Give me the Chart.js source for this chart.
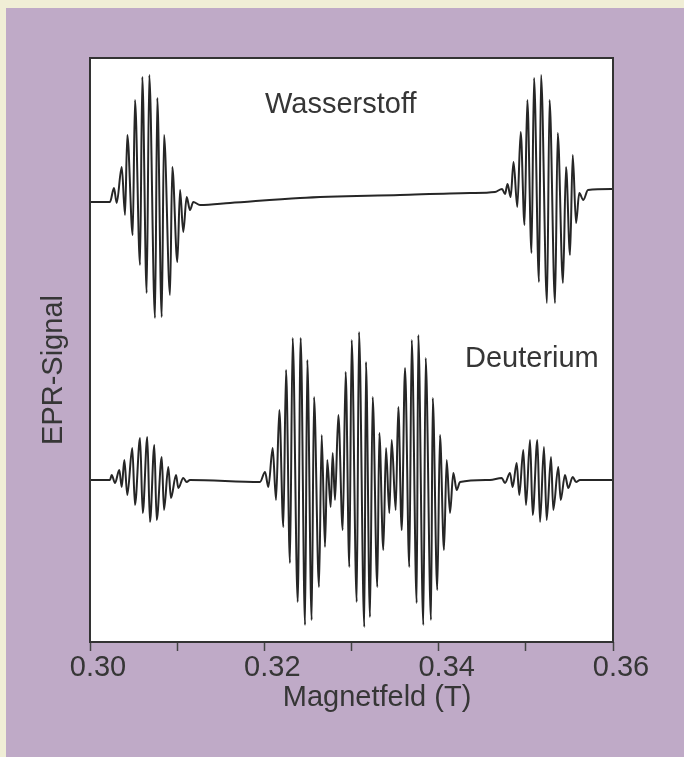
<!DOCTYPE html>
<html>
<head>
<meta charset="utf-8">
<script src="https://cdn.jsdelivr.net/npm/chart.js@4.4.1/dist/chart.umd.min.js"></script>
<style>
    html, body { margin: 0; padding: 0; background: #f0eed6; }
    #wrap { position: relative; width: 684px; height: 757px; }
</style>
</head>
<body>
<div id="wrap"><canvas id="eprChart"></canvas></div>
<script>
// Magnetfeld (T) und EPR-Signal (willkürliche Einheiten)
const hField = [
    0.30000, 0.30229, 0.30275, 0.30306, 0.30364, 0.30402, 0.30428, 0.30490, 0.30516, 0.30574,
    0.30600, 0.30650, 0.30680, 0.30746, 0.30772, 0.30823, 0.30849, 0.30918, 0.30944, 0.31002,
    0.31033, 0.31070, 0.31109, 0.31147, 0.31185, 0.31262, 0.31606, 0.32409, 0.33556, 0.34359,
    0.34646, 0.34727, 0.34761, 0.34790, 0.34826, 0.34859, 0.34902, 0.34941, 0.34985, 0.35017,
    0.35065, 0.35094, 0.35151, 0.35174, 0.35243, 0.35272, 0.35335, 0.35366, 0.35426, 0.35461,
    0.35507, 0.35538, 0.35576, 0.35613, 0.35659, 0.35713, 0.36000
];
const hSignal = [
    0, 0, 14, -1, 35, -13, 67, -33, 102, -63,
    125, -91, 127, -116, 104, -115, 67, -93, 35, -60,
    12, -30, 5, -8, 0, -3, -1, 4, 7, 9,
    10, 13, 8, 18, 5, 40, -5, 70, -23, 102,
    -51, 124, -80, 127, -101, 102, -101, 69, -81, 35,
    -53, 47, -21, 9, 2, 12, 13
];

const dField = [
    0.30000, 0.30229, 0.30249, 0.30287, 0.30336, 0.30364, 0.30394, 0.30428, 0.30485, 0.30516,
    0.30574, 0.30605, 0.30657, 0.30688, 0.30738, 0.30765, 0.30823, 0.30849, 0.30898, 0.30929,
    0.30987, 0.31013, 0.31070, 0.31109, 0.31147, 0.31950,
    0.32008, 0.32046, 0.32096, 0.32134, 0.32172, 0.32218, 0.32249, 0.32294, 0.32325, 0.32383,
    0.32417, 0.32467, 0.32493, 0.32543, 0.32570, 0.32627, 0.32658, 0.32696, 0.32722, 0.32761,
    0.32784, 0.32811, 0.32849, 0.32899, 0.32933, 0.32975, 0.33002, 0.33060, 0.33086, 0.33147,
    0.33166, 0.33212, 0.33243, 0.33296, 0.33319, 0.33365, 0.33396, 0.33434, 0.33461, 0.33507,
    0.33537, 0.33576, 0.33614, 0.33663, 0.33691, 0.33748, 0.33766, 0.33824, 0.33851, 0.33912,
    0.33932, 0.33984, 0.34015, 0.34061, 0.34092, 0.34130, 0.34168, 0.34207, 0.34245, 0.34589,
    0.34723, 0.34761, 0.34818, 0.34849, 0.34895, 0.34925, 0.34971, 0.35002, 0.35048, 0.35079,
    0.35132, 0.35163, 0.35208, 0.35239, 0.35289, 0.35315, 0.35372, 0.35400, 0.35449, 0.35487,
    0.35538, 0.35576, 0.35621, 0.36000
];
const dSignal = [
    1, 1, 6, -2, 11, -6, 21, -14, 33, -24,
    43, -32, 44, -41, 36, -39, 24, -29, 14, -17,
    6, -7, 3, -1, 1, -1,
    9, -6, 33, -19, 71, -46, 111, -82, 143, -121,
    143, -144, 121, -139, 84, -106, 46, -66, 21, -26,
    28, -19, 66, -49, 109, -86, 141, -121, 149, -146,
    119, -136, 84, -106, 48, -69, 33, -32, 41, -29,
    74, -49, 113, -86, 141, -122, 146, -144, 123, -139,
    83, -109, 46, -69, 21, -32, 8, -9, -1, 1,
    3, -2, 8, -6, 18, -14, 31, -24, 41, -34,
    41, -41, 34, -39, 24, -29, 14, -19, 6, -7,
    4, -1, 1, 1
];

const majorTicks = [0.30, 0.32, 0.34, 0.36];
const hShift = 440;   // Versatz der Wasserstoff-Spur
const dShift = 161;   // Versatz der Deuterium-Spur

const textColor = '#363636';
const fontFamily = '"Liberation Sans", Arial, sans-serif';

const backgroundPlugin = {
    id: 'panelBackground',
    beforeDraw(chart) {
        const { ctx, chartArea, width, height } = chart;
        ctx.save();
        ctx.fillStyle = '#f0eed6';
        ctx.fillRect(0, 0, width, height);
        ctx.fillStyle = '#bfaac7';
        ctx.fillRect(6, 8, width - 6, height - 8);
        ctx.fillStyle = '#ffffff';
        ctx.fillRect(chartArea.left, chartArea.top, chartArea.right - chartArea.left, chartArea.bottom - chartArea.top);
        ctx.restore();
    },
    afterDraw(chart) {
        const { ctx, chartArea, scales } = chart;
        ctx.save();
        ctx.strokeStyle = '#333333';
        ctx.lineWidth = 2;
        ctx.strokeRect(chartArea.left, chartArea.top, chartArea.right - chartArea.left, chartArea.bottom - chartArea.top);

        ctx.fillStyle = textColor;
        ctx.font = '29px ' + fontFamily;
        ctx.textBaseline = 'alphabetic';

        // Beschriftung der Spuren
        ctx.textAlign = 'left';
        ctx.fillText('Wasserstoff', scales.x.getPixelForValue(0.32008), scales.y.getPixelForValue(529));
        ctx.fillText('Deuterium', scales.x.getPixelForValue(0.34302), scales.y.getPixelForValue(275));

        // Achsentitel
        ctx.textAlign = 'center';
        ctx.fillText('Magnetfeld (T)', scales.x.getPixelForValue(0.33293), chartArea.bottom + 64);

        ctx.translate(chartArea.left - 28, (chartArea.top + chartArea.bottom) / 2 + 20);
        ctx.rotate(-Math.PI / 2);
        ctx.fillText('EPR-Signal', 0, 0);
        ctx.restore();
    }
};

const ctx = document.getElementById('eprChart').getContext('2d');
new Chart(ctx, {
    type: 'line',
    data: {
        datasets: [
            {
                label: 'Wasserstoff',
                data: hField.map((x, i) => ({ x: x, y: hSignal[i] + hShift })),
                borderColor: '#262626',
                borderWidth: 2,
                pointRadius: 0,
                cubicInterpolationMode: 'monotone',
                fill: false
            },
            {
                label: 'Deuterium',
                data: dField.map((x, i) => ({ x: x, y: dSignal[i] + dShift })),
                borderColor: '#262626',
                borderWidth: 2,
                pointRadius: 0,
                cubicInterpolationMode: 'monotone',
                fill: false
            }
        ]
    },
    options: {
        responsive: true,
        maintainAspectRatio: false,
        animation: false,
        layout: {
            padding: { left: 90, top: 58, right: 71, bottom: 0 }
        },
        scales: {
            x: {
                type: 'linear',
                min: 0.30,
                max: 0.36,
                border: { display: false },
                grid: {
                    display: true,
                    drawOnChartArea: false,
                    drawTicks: true,
                    tickLength: 9,
                    tickColor: '#444444',
                    tickWidth: 1.5
                },
                ticks: {
                    stepSize: 0.01,
                    color: textColor,
                    font: { size: 29, family: fontFamily },
                    padding: 0,
                    labelOffset: 8,
                    maxRotation: 0,
                    autoSkip: false,
                    callback: function(value) {
                        const isMajor = majorTicks.some(t => Math.abs(t - value) < 1e-6);
                        return isMajor ? value.toFixed(2) : '';
                    }
                },
                afterFit: function(scale) {
                    scale.height = 115;
                }
            },
            y: {
                display: false,
                min: 0,
                max: 584
            }
        },
        plugins: {
            legend: { display: false },
            tooltip: { enabled: false }
        }
    },
    plugins: [backgroundPlugin]
});
</script>
</body>
</html>
